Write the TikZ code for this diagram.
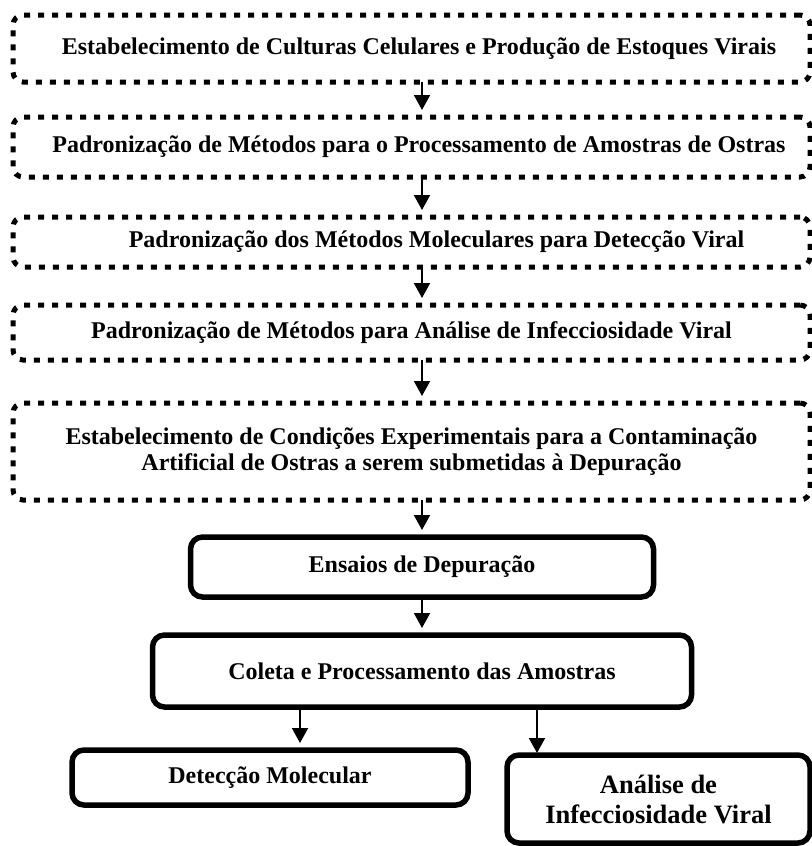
\documentclass[tikz,border=0pt]{standalone}
\usepackage{fontspec}
\setmainfont{Liberation Serif}
\usetikzlibrary{arrows.meta,positioning}

\begin{document}
\begin{tikzpicture}[
    x=0.5pt, y=-0.5pt,
    every node/.style={font=\fontsize{12}{13}\selectfont\bfseries, align=center, inner sep=0pt, outer sep=0pt},
    dotbox/.style={draw, line width=2.5pt, dash pattern=on 3pt off 4pt, rounded corners=5pt, minimum width=398.5pt},
    solidbox/.style={draw, line width=2.75pt, rounded corners=6pt},
    arr/.style={-{Triangle[length=7.5pt,width=8pt]}, line width=1pt, shorten >=3.5pt}
]
\useasboundingbox (0,0) rectangle (811,846);
\node (cult) [dotbox, minimum height=33.5pt] at (411.5,48.5) {\hspace*{7.5pt}Estabelecimento de Culturas Celulares e Produção de Estoques Virais};
\node (proc) [dotbox, minimum height=30pt, below=17.5pt of cult] {\hspace*{7.5pt}Padronização de Métodos para o Processamento de Amostras de Ostras};
\node (mol) [dotbox, minimum height=25pt, below=20pt of proc] {\hspace*{25pt}Padronização dos Métodos Moleculares para Detecção Viral};
\node (inf) [dotbox, minimum height=27.5pt, below=19pt of mol] {Padronização de Métodos para Análise de Infecciosidade Viral};
\node (cond) [dotbox, minimum height=48.5pt, below=21.5pt of inf] {Estabelecimento de Condições Experimentais para a Contaminação\\Artificial de Ostras a serem submetidas à Depuração};
\node (ens) [solidbox, minimum width=231.5pt, minimum height=30pt, below=18.5pt of cond, xshift=5.25pt] {Ensaios de Depuração};
\node (col) [solidbox, minimum width=269.5pt, minimum height=36pt, below=19pt of ens] {Coleta e Processamento das Amostras};
\node (det) [solidbox, minimum width=198pt, minimum height=27.5pt, below=21.5pt of col, xshift=-76pt] {Detecção Molecular};
\node (ana) [solidbox, minimum width=151.5pt, minimum height=44pt, below=24pt of col, xshift=118.25pt, font=\fontsize{13.25}{15}\selectfont\bfseries] {Análise de\\Infecciosidade Viral};
\coordinate (detin) at ([xshift=15pt]det.north);
\coordinate (anain) at ([xshift=-60.75pt]ana.north);
\draw[arr] ([xshift=5.25pt]cult.south) -- ([xshift=5.25pt]proc.north);
\draw[arr] ([xshift=5.25pt]proc.south) -- ([xshift=5.25pt]mol.north);
\draw[arr] ([xshift=5.25pt]mol.south) -- ([xshift=5.25pt]inf.north);
\draw[arr] ([xshift=5.25pt]inf.south) -- ([xshift=5.25pt]cond.north);
\draw[arr] (cond.south -| ens.north) -- (ens.north);
\draw[arr] (ens) -- (col);
\draw[arr] (col.south -| detin) -- (detin);
\draw[arr, shorten >=1pt] (col.south -| anain) -- (anain);
\end{tikzpicture}
\end{document}
